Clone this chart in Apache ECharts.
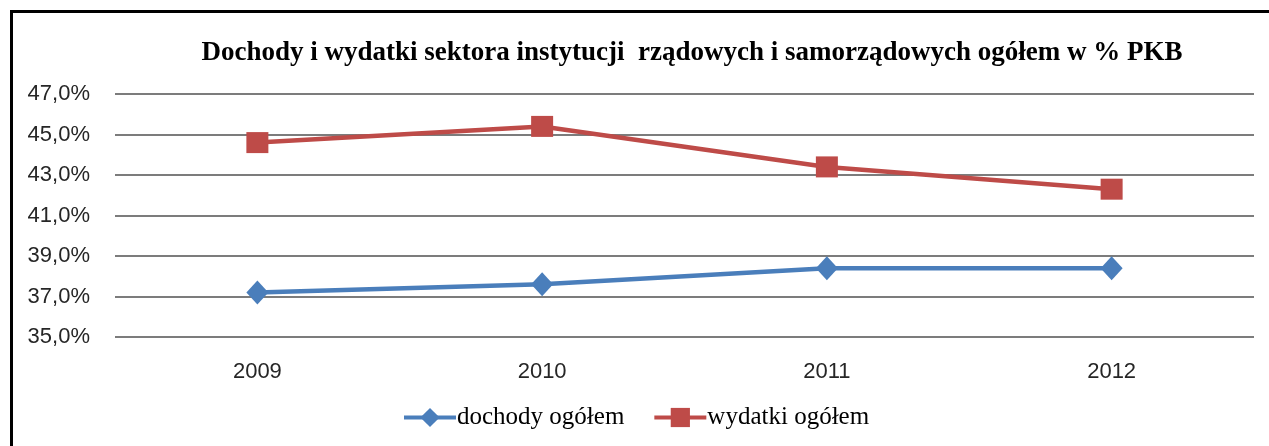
<!DOCTYPE html>
<html>
<head>
<meta charset="utf-8">
<script src="https://cdn.jsdelivr.net/npm/echarts@6/dist/echarts.min.js"></script>
<style>
  html, body { margin:0; padding:0; background:#fff; overflow:hidden; }
  #frame { position:absolute; left:10px; top:10px; width:1400px; height:600px; border:3px solid #000; }
  #chart { position:absolute; left:0; top:0; width:1269px; height:446px; }
</style>
</head>
<body>
<div id="frame"></div>
<div id="chart"></div>
<script>
const years = ['2009', '2010', '2011', '2012'];
const dochody = [37.2, 37.6, 38.4, 38.4];
const wydatki = [44.6, 45.4, 43.4, 42.3];
const yTicks = { min: 35, max: 47, step: 2 };

const chart = echarts.init(document.getElementById('chart'), null, { renderer: 'canvas' });

chart.setOption({
  backgroundColor: 'transparent',
  animation: false,
  title: {
    text: 'Dochody i wydatki sektora instytucji  rządowych i samorządowych ogółem w % PKB',
    left: 687, top: 35, textAlign: 'center',
    textStyle: { fontFamily: 'Liberation Serif', fontWeight: 'bold', fontSize: 27, color: '#000' }
  },
  legend: {
    data: ['dochody ogółem', 'wydatki ogółem'],
    left: 397, top: 400,
    itemWidth: 52, itemHeight: 24, itemGap: 28,
    lineStyle: { width: 4 },
    textStyle: { fontFamily: 'Liberation Serif', fontSize: 25, color: '#000', padding: [0, 0, 0, -4] }
  },
  grid: { left: 115, right: 15, top: 94, bottom: 109, containLabel: false },
  xAxis: {
    type: 'category', data: years, boundaryGap: true,
    axisLine: { show: false }, axisTick: { show: false },
    axisLabel: { fontFamily: 'Liberation Sans', fontSize: 22, color: '#262626', margin: 24 }
  },
  yAxis: {
    type: 'value', min: yTicks.min, max: yTicks.max, interval: yTicks.step,
    axisLine: { show: false }, axisTick: { show: false },
    splitLine: { lineStyle: { color: '#505050', width: 1.5 } },
    axisLabel: {
      fontFamily: 'Liberation Sans', fontSize: 22, color: '#262626', margin: 25,
      formatter: v => v.toFixed(1).replace('.', ',') + '%'
    }
  },
  series: [
    {
      name: 'dochody ogółem', type: 'line', data: dochody,
      symbol: 'diamond', symbolSize: [22, 24],
      lineStyle: { color: '#4a7ebb', width: 4.5 },
      itemStyle: { color: '#4a7ebb' }
    },
    {
      name: 'wydatki ogółem', type: 'line', data: wydatki,
      symbol: 'rect', symbolSize: [22, 21],
      lineStyle: { color: '#be4b48', width: 4.5 },
      itemStyle: { color: '#be4b48' }
    }
  ]
});
</script>
</body>
</html>
